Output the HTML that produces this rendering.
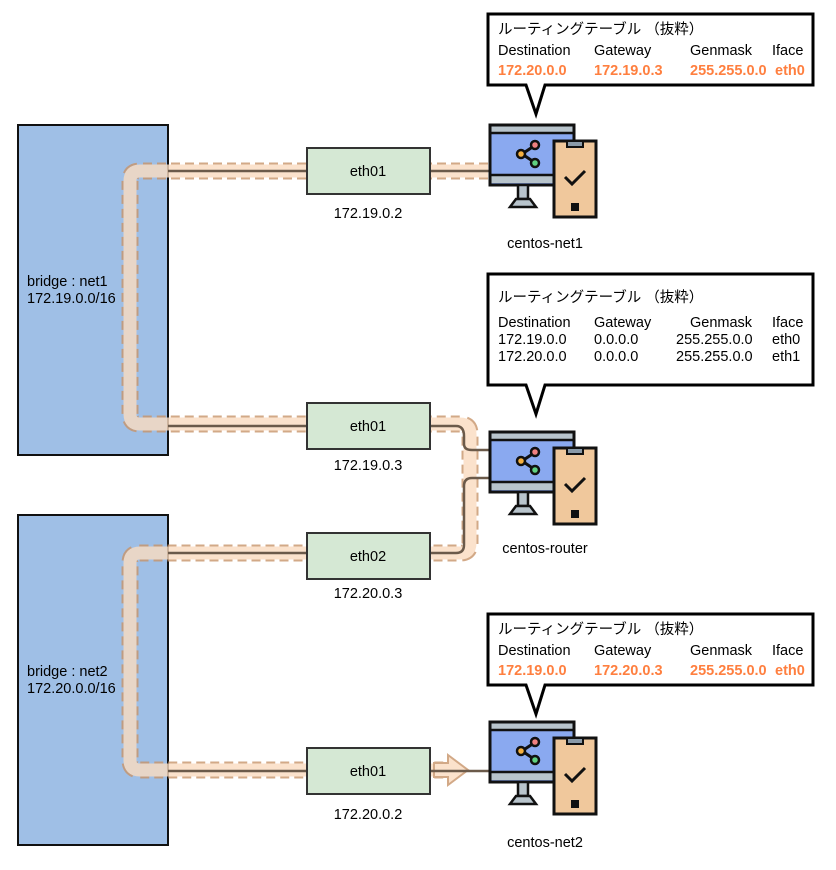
<!DOCTYPE html>
<html><head><meta charset="utf-8"><style>
body{margin:0;background:#fff;}
svg text{font-family:"Liberation Sans","Noto Sans CJK JP",sans-serif;font-size:14.5px;fill:#000;}
.o{fill:#ff7f3f !important;font-weight:bold;}
</style></head><body>
<svg width="836" height="865" viewBox="0 0 836 865" xmlns="http://www.w3.org/2000/svg">
<defs>
<g id="pc">
  <rect x="2" y="2" width="84" height="60" fill="#8aa9f0" stroke="#111" stroke-width="3"/>
  <rect x="3.5" y="3.5" width="81" height="6" fill="#b8c4cc"/>
  <rect x="3.5" y="52" width="81" height="8" fill="#b8c4cc"/>
  <line x1="2" y1="52" x2="86" y2="52" stroke="#111" stroke-width="2.5"/>
  <line x1="2" y1="10" x2="86" y2="10" stroke="#111" stroke-width="2.5"/>
  <rect x="30" y="62" width="10" height="14" fill="#b8c4cc" stroke="#111" stroke-width="2.5"/>
  <path d="M22 84 L28 76 L42 76 L48 84 Z" fill="#b8c4cc" stroke="#111" stroke-width="2.5"/>
  <line x1="34" y1="31" x2="46" y2="23" stroke="#111" stroke-width="3"/>
  <line x1="34" y1="31" x2="46" y2="39" stroke="#111" stroke-width="3"/>
  <circle cx="33" cy="31" r="4" fill="#f5b040" stroke="#111" stroke-width="2.5"/>
  <circle cx="47" cy="22" r="4" fill="#f08080" stroke="#111" stroke-width="2.5"/>
  <circle cx="47" cy="40" r="4" fill="#60d080" stroke="#111" stroke-width="2.5"/>
  <rect x="66" y="18" width="42" height="76" fill="#f0c89c" stroke="#111" stroke-width="3"/>
  <rect x="79" y="18" width="16" height="6" fill="#8a9aa8" stroke="#111" stroke-width="2"/>
  <path d="M77 54 L84 61 L97 48" fill="none" stroke="#111" stroke-width="3"/>
  <rect x="83" y="80" width="8" height="8" fill="#111"/>
</g>
</defs>

<rect x="18" y="125" width="150" height="330" fill="#9fbfe6" stroke="#111" stroke-width="2"/>
<rect x="18" y="515" width="150" height="330" fill="#9fbfe6" stroke="#111" stroke-width="2"/>
<text x="27" y="286">bridge : net1</text>
<text x="27" y="303">172.19.0.0/16</text>
<text x="27" y="676">bridge : net2</text>
<text x="27" y="693">172.20.0.0/16</text>

<g opacity="0.8">
<path d="M488 171 H140 Q130 171 130 181 V414 Q130 424 140 424 H460 Q470 424 470 434 V543 Q470 553 460 553 H140 Q130 553 130 563 V760 Q130 770 140 770 H452" fill="none" stroke="#c8946a" stroke-width="17" stroke-dasharray="9,5"/>
<path d="M488 171 H140 Q130 171 130 181 V414 Q130 424 140 424 H460 Q470 424 470 434 V543 Q470 553 460 553 H140 Q130 553 130 563 V760 Q130 770 140 770 H452" fill="none" stroke="#fbdcc0" stroke-width="13"/>
<path d="M448 755 L468 770 L448 785 L448 777 L434 777 L434 763 L448 763 Z" fill="#fbdcc0" stroke="#c8946a" stroke-width="2"/>
</g>

<g stroke="#6b5a4a" stroke-width="2.5" fill="none">
<line x1="168" y1="171" x2="307" y2="171"/>
<line x1="430" y1="171" x2="490" y2="171"/>
<line x1="168" y1="426" x2="307" y2="426"/>
<path d="M430 426 H456 Q464 426 464 436 V444 Q464 450 472 450 H490"/>
<path d="M490 478 H472 Q464 478 464 486 V545 Q464 553 456 553 H430"/>
<line x1="168" y1="553" x2="307" y2="553"/>
<line x1="168" y1="771" x2="307" y2="771"/>
<line x1="430" y1="771" x2="490" y2="771"/>
</g>

<g fill="#d5e8d4" stroke="#333" stroke-width="2">
<rect x="307" y="148" width="123" height="46"/>
<rect x="307" y="403" width="123" height="46"/>
<rect x="307" y="533" width="123" height="46"/>
<rect x="307" y="748" width="123" height="46"/>
</g>
<g text-anchor="middle">
<text x="368" y="176">eth01</text>
<text x="368" y="431">eth01</text>
<text x="368" y="561">eth02</text>
<text x="368" y="776">eth01</text>
<text x="368" y="218">172.19.0.2</text>
<text x="368" y="470">172.19.0.3</text>
<text x="368" y="598">172.20.0.3</text>
<text x="368" y="819">172.20.0.2</text>
<text x="545" y="248">centos-net1</text>
<text x="545" y="553">centos-router</text>
<text x="545" y="847">centos-net2</text>
</g>

<use href="#pc" x="488" y="123"/>
<use href="#pc" x="488" y="430"/>
<use href="#pc" x="488" y="720"/>

<g fill="#fff" stroke="#000" stroke-width="3" stroke-linejoin="miter">
<path d="M488 14 H813 V85 H545 L536 114 L526 85 H488 Z"/>
<path d="M488 274 H813 V385 H545 L536 414 L526 385 H488 Z"/>
<path d="M488 614 H813 V685 H545 L536 714 L526 685 H488 Z"/>
</g>

<text x="498" y="34">ルーティングテーブル （抜粋）</text>
<text x="498" y="55">Destination</text><text x="594" y="55">Gateway</text><text x="690" y="55">Genmask</text><text x="772" y="55">Iface</text>
<text x="498" y="75" class="o">172.20.0.0</text><text x="594" y="75" class="o">172.19.0.3</text><text x="690" y="75" class="o">255.255.0.0</text><text x="775" y="75" class="o">eth0</text>

<text x="498" y="302">ルーティングテーブル （抜粋）</text>
<text x="498" y="327">Destination</text><text x="594" y="327">Gateway</text><text x="690" y="327">Genmask</text><text x="772" y="327">Iface</text>
<text x="498" y="344">172.19.0.0</text><text x="594" y="344">0.0.0.0</text><text x="676" y="344">255.255.0.0</text><text x="772" y="344">eth0</text>
<text x="498" y="361">172.20.0.0</text><text x="594" y="361">0.0.0.0</text><text x="676" y="361">255.255.0.0</text><text x="772" y="361">eth1</text>

<text x="498" y="634">ルーティングテーブル （抜粋）</text>
<text x="498" y="655">Destination</text><text x="594" y="655">Gateway</text><text x="690" y="655">Genmask</text><text x="772" y="655">Iface</text>
<text x="498" y="675" class="o">172.19.0.0</text><text x="594" y="675" class="o">172.20.0.3</text><text x="690" y="675" class="o">255.255.0.0</text><text x="775" y="675" class="o">eth0</text>
</svg>
</body></html>
